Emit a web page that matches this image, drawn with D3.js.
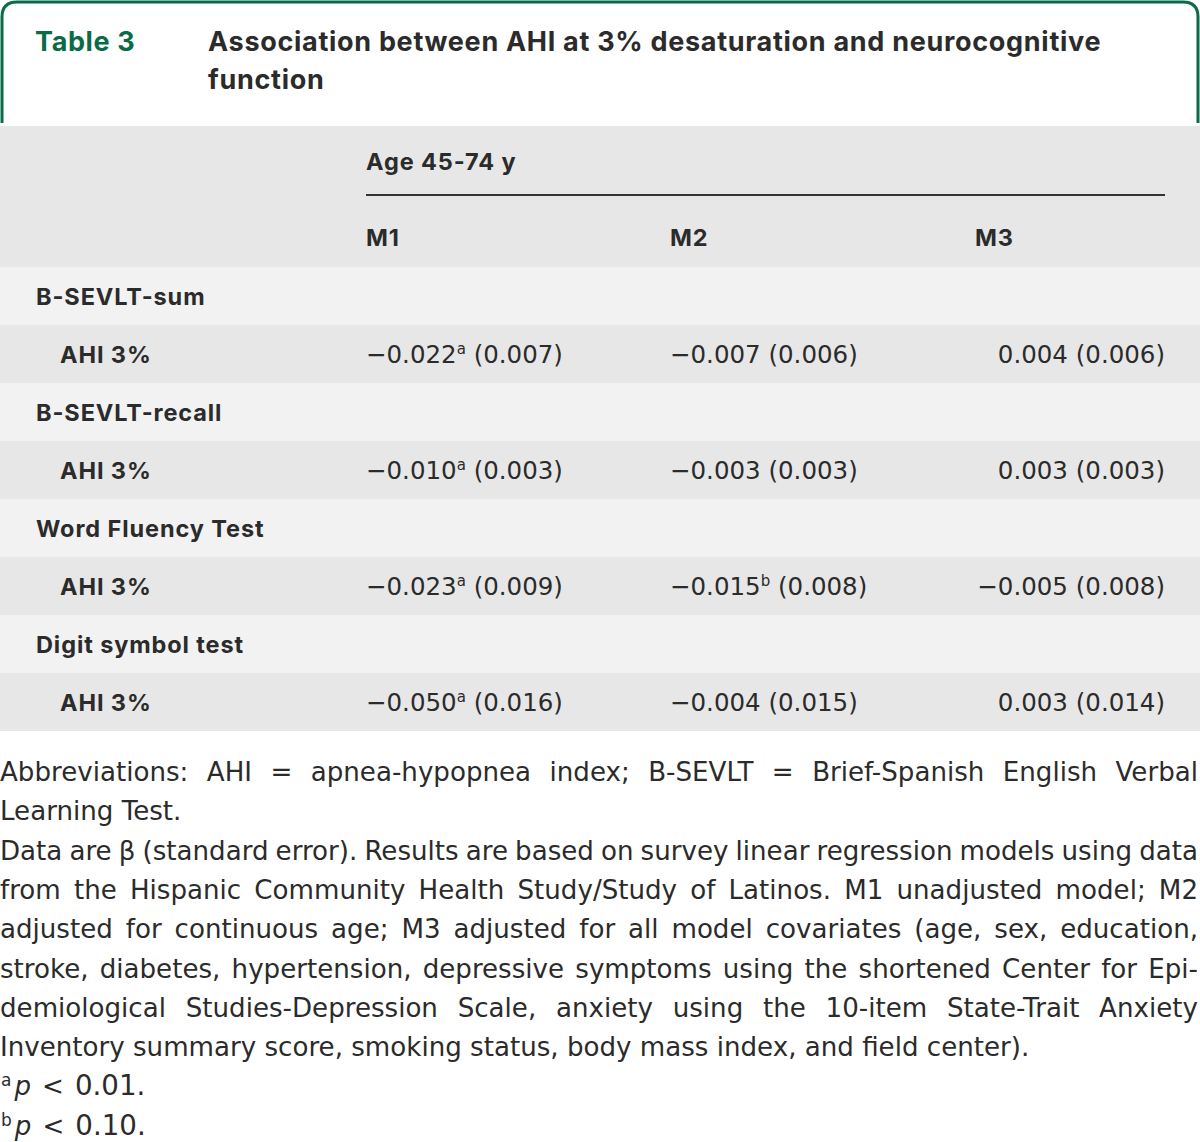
<!DOCTYPE html>
<html><head><meta charset="utf-8">
<script src="https://cdn.jsdelivr.net/npm/d3@7"></script>
<style>html,body{margin:0;padding:0;background:#fff}svg{display:block}</style>
</head><body>
<script>
// ---- data ----
const tableLabel = "Table 3";
const titleLines = ["Association between AHI at 3% desaturation and neurocognitive", "function"];
const spanHeader = "Age 45-74 y";
const models = ["M1", "M2", "M3"];
const outcomes = ["B-SEVLT-sum", "B-SEVLT-recall", "Word Fluency Test", "Digit symbol test"];
const predictor = "AHI 3%";
const m1Beta = [-0.022, -0.010, -0.023, -0.050];
const m1SE   = [0.007, 0.003, 0.009, 0.016];
const m1Sig  = ["a", "a", "a", "a"];
const m2Beta = [-0.007, -0.003, -0.015, -0.004];
const m2SE   = [0.006, 0.003, 0.008, 0.015];
const m2Sig  = ["", "", "b", ""];
const m3Beta = [0.004, 0.003, -0.005, 0.003];
const m3SE   = [0.006, 0.003, 0.008, 0.014];
const m3Sig  = ["", "", "", ""];
const footLines = [
  {t: "Abbreviations: AHI = apnea-hypopnea index; B-SEVLT = Brief-Spanish English Verbal", j: true},
  {t: "Learning Test.", j: false},
  {t: "Data are β (standard error). Results are based on survey linear regression models using data", j: true},
  {t: "from the Hispanic Community Health Study/Study of Latinos. M1 unadjusted model; M2", j: true},
  {t: "adjusted for continuous age; M3 adjusted for all model covariates (age, sex, education,", j: true},
  {t: "stroke, diabetes, hypertension, depressive symptoms using the shortened Center for Epi-", j: true},
  {t: "demiological Studies-Depression Scale, anxiety using the 10-item State-Trait Anxiety", j: true},
  {t: "Inventory summary score, smoking status, body mass index, and field center).", j: false}
];
const sigNotes = [{s: "a", t: "0.01."}, {s: "b", t: "0.10."}];

// ---- layout ----
const W = 1200, H = 1142;
const BOLD = "Inter, 'Liberation Sans', sans-serif";
const REG = "'DejaVu Sans', sans-serif";
const green = "#0b6b47", ink = "#2b2b2b", dark = "#e7e7e7", light = "#f1f2f1";

const svg = d3.select("body").append("svg").attr("width", W).attr("height", H);

// frame
const fr = 15, fy = 123;
svg.append("path")
  .attr("d", `M2,${fy} L2,${2+fr} Q2,2 ${2+fr},2 L${W-2-fr},2 Q${W-2},2 ${W-2},${2+fr} L${W-2},${fy}`)
  .attr("fill", "none").attr("stroke", green).attr("stroke-width", 3);

function bold(sel, ls) { return sel.attr("font-family", BOLD).attr("font-weight", 700).attr("letter-spacing", ls); }

bold(svg.append("text"), 0.6).attr("x", 35).attr("y", 51).attr("fill", green)
  .attr("font-size", 27).text(tableLabel);
bold(svg.selectAll("text.title").data(titleLines).join("text").attr("class", "title"), 0.7)
  .attr("x", 208).attr("y", (d, i) => 51 + i * 38).attr("fill", ink)
  .attr("font-size", 27).text(d => d);

// header band
svg.append("rect").attr("x", 0).attr("y", 126).attr("width", W).attr("height", 141).attr("fill", dark);
bold(svg.append("text"), 0.9).attr("x", 366).attr("y", 170).attr("fill", ink)
  .attr("font-size", 23.5).text(spanHeader);
svg.append("line").attr("x1", 366).attr("x2", 1165).attr("y1", 195).attr("y2", 195)
  .attr("stroke", "#333").attr("stroke-width", 2);

const colX = d3.scaleOrdinal().domain(models).range([366, 670, 975]);
bold(svg.selectAll("text.mh").data(models).join("text").attr("class", "mh"), 0.9)
  .attr("x", d => colX(d)).attr("y", 246).attr("fill", ink)
  .attr("font-size", 23.5).text(d => d);

// rows
const rowKeys = [];
outcomes.forEach((o, i) => { rowKeys.push({type: "g", i, label: o}); rowKeys.push({type: "d", i, label: predictor}); });
const y = d3.scaleBand().domain(d3.range(rowKeys.length)).range([267, 731]).padding(0);

svg.selectAll("rect.row").data(rowKeys).join("rect").attr("class", "row")
  .attr("x", 0).attr("width", W).attr("y", (d, k) => y(k)).attr("height", y.bandwidth())
  .attr("fill", d => d.type === "g" ? light : dark);

bold(svg.selectAll("text.rl").data(rowKeys).join("text").attr("class", "rl"), 0.9)
  .attr("x", d => d.type === "g" ? 36 : 60).attr("y", (d, k) => y(k) + y.bandwidth() / 2 + 9)
  .attr("fill", ink).attr("font-size", 23.5).text(d => d.label);

const fmt = v => (v < 0 ? "\u2212" : "") + Math.abs(v).toFixed(3);
const cols = [
  {m: "M1", b: m1Beta, se: m1SE, sig: m1Sig, anchor: "start", x: colX("M1")},
  {m: "M2", b: m2Beta, se: m2SE, sig: m2Sig, anchor: "start", x: colX("M2")},
  {m: "M3", b: m3Beta, se: m3SE, sig: m3Sig, anchor: "end", x: 1165}
];
cols.forEach(c => {
  outcomes.forEach((o, i) => {
    const k = i * 2 + 1;
    const t = svg.append("text").attr("x", c.x).attr("y", y(k) + y.bandwidth() / 2 + 9)
      .attr("text-anchor", c.anchor).attr("fill", ink).attr("font-family", REG).attr("font-size", 24.5);
    t.append("tspan").text(fmt(c.b[i]));
    if (c.sig[i]) t.append("tspan").attr("font-size", 15).attr("dy", -9).text(c.sig[i]);
    t.append("tspan").attr("dy", c.sig[i] ? 9 : 0).text(" (" + c.se[i].toFixed(3) + ")");
  });
});

// footnotes
const fy0 = 781, lh = 39.3;
let fs = 25;
// size the footnote font so an unjustified line matches the reference width
const probe = svg.append("text").attr("font-family", REG).attr("font-size", fs).text(footLines[7].t);
fs = fs * 1030 / probe.node().getComputedTextLength();
probe.remove();
footLines.forEach((L, i) => {
  const t = svg.append("text").attr("x", 0).attr("y", fy0 + i * lh).attr("fill", ink)
    .attr("font-family", REG).attr("font-size", fs).text(L.t);
  if (L.j) {
    const nat = t.node().getComputedTextLength();
    const spaces = (L.t.match(/ /g) || []).length;
    t.style("word-spacing", ((1198 - nat) / spaces) + "px");
  }
});
sigNotes.forEach((n, i) => {
  const t = svg.append("text").attr("x", 1).attr("y", fy0 + (footLines.length + i) * lh)
    .attr("fill", ink).attr("font-family", REG).attr("font-size", fs);
  t.append("tspan").attr("font-size", 17).attr("dy", -9).text(n.s);
  t.append("tspan").attr("dy", 9).attr("dx", 3).attr("font-style", "italic").text("p");
  t.append("tspan").attr("dx", 11).text("<");
  t.append("tspan").attr("dx", 11).attr("font-size", fs * 1.06).text(n.t);
});
</script>
</body></html>
